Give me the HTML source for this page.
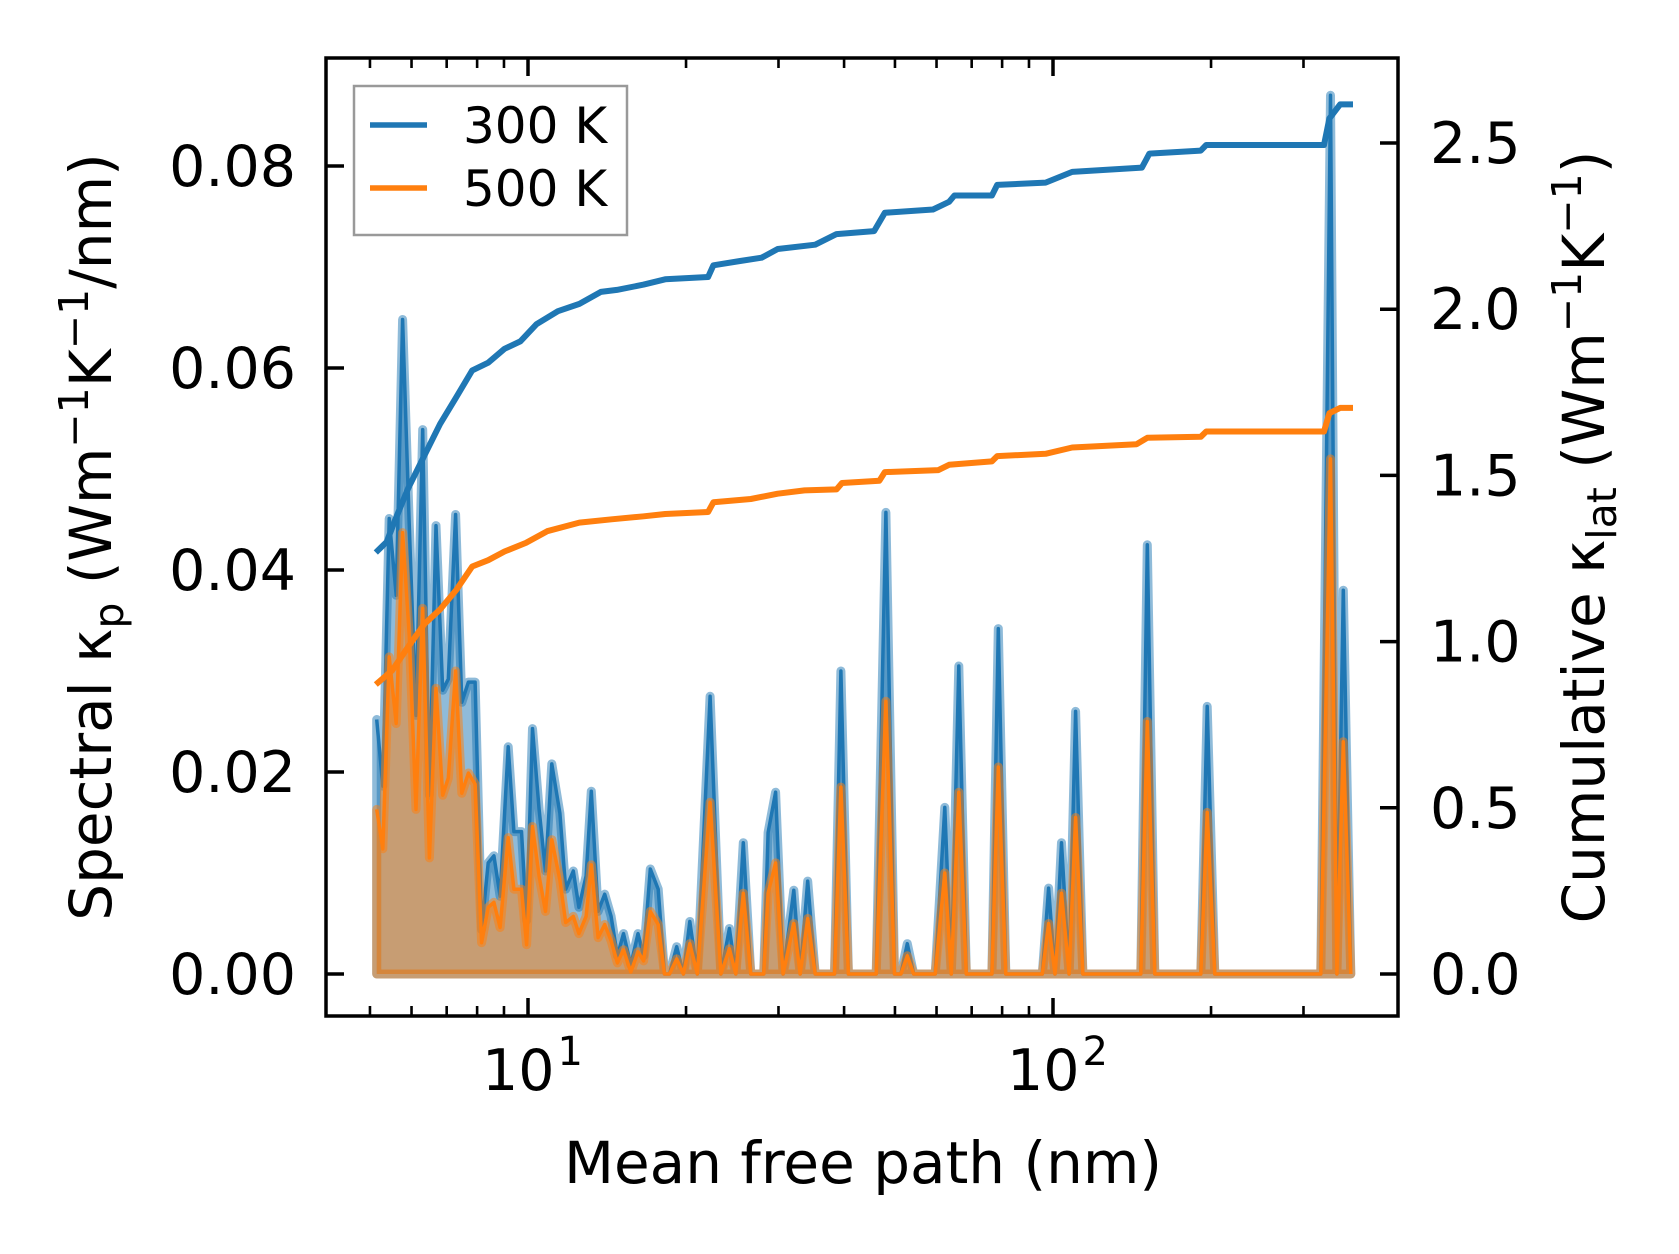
<!DOCTYPE html>
<html><head><meta charset="utf-8">
<style>
html,body{margin:0;padding:0;background:#fff;}
svg{display:block;font-family:"DejaVu Sans","Liberation Sans",sans-serif;}
</style></head>
<body>
<svg id="chart" width="1679" height="1254" viewBox="0 0 1679 1254" xmlns="http://www.w3.org/2000/svg">
<rect width="1679" height="1254" fill="#fff"/>
<defs><clipPath id="plotclip"><rect x="326" y="58" width="1072" height="958"/></clipPath></defs>
<g id="plot" clip-path="url(#plotclip)"></g>
<g id="axes"></g>
</svg>
<script>
// ---- data ----
const spec300X = [5.15,5.29,5.44,5.61,5.77,5.94,6.12,6.30,6.49,6.68,6.88,7.05,7.28,7.48,7.70,7.93,8.16,8.40,8.61,8.85,9.17,9.40,9.72,9.94,10.2,10.5,10.8,11.1,11.5,11.8,12.2,12.5,12.9,13.2,13.6,14.0,14.4,14.8,15.2,15.7,16.2,16.6,17.1,17.7,18.2,18.6,19.2,19.77,20.33,21.01,22.23,23.30,24.19,24.88,25.71,26.57,28.12,28.66,29.62,30.61,32.08,33.0,34.1,35.24,38.35,39.45,40.76,46.06,48.05,49.89,51.31,52.78,54.29,59.65,62.23,64.02,66.16,68.36,76.49,78.67,81.31,95.4,98.1,100.9,103.8,107.3,110.4,114.0,147.0,151.2,156.3,191.2,196.7,203.3,323.7,337.7,347.4,357.3,369.2];
const spec300Y = [0.0252,0.0186,0.0451,0.0375,0.0648,0.0446,0.0256,0.0539,0.0177,0.0444,0.0281,0.0292,0.0455,0.0269,0.0289,0.0289,0.0044,0.0110,0.0117,0.0077,0.0225,0.0141,0.0141,0.0053,0.0243,0.0163,0.0102,0.0208,0.0159,0.0084,0.0102,0.0066,0.0097,0.0181,0.0062,0.0079,0.0057,0.0018,0.0040,0.0009,0.0040,0.0018,0.0104,0.0084,0,0,0.0027,0,0.0052,0,0.0275,0,0.0045,0,0.013,0,0,0.014,0.018,0,0.0083,0,0.0092,0,0,0.030,0,0,0.0457,0,0,0.003,0,0,0.0165,0,0.0305,0,0,0.0342,0,0,0.0085,0,0.013,0,0.026,0,0,0.0425,0,0,0.0265,0,0,0.087,0,0.038,0];
const spec500Y = [0.0163,0.0124,0.0314,0.0248,0.0437,0.0336,0.0163,0.0362,0.0115,0.0283,0.0177,0.0194,0.0300,0.0179,0.0199,0.0188,0.0031,0.0066,0.0071,0.0046,0.0135,0.0084,0.0084,0.0029,0.0146,0.0097,0.0062,0.0133,0.0093,0.0051,0.0057,0.0040,0.0057,0.0108,0.0036,0.0049,0.0033,0.0011,0.0024,0.0002,0.0022,0.0013,0.0062,0.0049,0,0,0.0015,0,0.003,0,0.017,0,0.0025,0,0.008,0,0,0.008,0.011,0,0.005,0,0.0055,0,0,0.0185,0,0,0.027,0,0,0.0018,0,0,0.010,0,0.018,0,0,0.0205,0,0,0.005,0,0.008,0,0.0155,0,0,0.025,0,0,0.016,0,0,0.051,0,0.023,0];
const cum300X = [5.13,5.38,5.58,5.91,6.34,6.80,7.30,7.83,8.40,9.02,9.67,10.38,11.40,12.53,13.77,14.77,16.61,18.25,22.03,22.55,25.35,27.86,29.89,35.24,38.70,45.62,47.83,59.09,63.4,64.9,76.5,78.3,96.8,108.8,147.7,152.6,191.2,195.8,328.3,336.1,352.3,372.8];
const cum300Y = [1.268,1.30,1.365,1.461,1.558,1.655,1.735,1.816,1.839,1.881,1.903,1.955,1.994,2.016,2.052,2.058,2.074,2.09,2.097,2.132,2.145,2.155,2.181,2.194,2.226,2.235,2.29,2.30,2.323,2.342,2.342,2.374,2.381,2.413,2.426,2.468,2.477,2.494,2.494,2.574,2.616,2.616];
const cum500X = [5.13,5.51,5.91,6.34,6.80,7.30,7.83,8.40,9.02,9.91,10.88,12.53,14.43,16.61,18.25,22.03,22.55,26.57,29.89,33.62,38.70,39.63,46.70,47.83,60.5,63.4,76.5,78.3,96.8,108.8,144.3,151.2,191.2,195.8,328.3,336.1,352.3,372.8];
const cum500Y = [0.871,0.913,0.984,1.052,1.097,1.155,1.226,1.245,1.271,1.297,1.332,1.358,1.368,1.377,1.384,1.39,1.419,1.429,1.445,1.455,1.458,1.477,1.484,1.510,1.516,1.532,1.542,1.558,1.565,1.584,1.594,1.613,1.616,1.632,1.632,1.687,1.703,1.703];
const leftTicks = [0, 0.02, 0.04, 0.06, 0.08];
const leftTickLabels = ["0.00","0.02","0.04","0.06","0.08"];
const rightTicks = [0, 0.5, 1.0, 1.5, 2.0, 2.5];
const rightTickLabels = ["0.0","0.5","1.0","1.5","2.0","2.5"];
const xMajor = [10, 100];
const xMajorExp = ["1","2"];
const xMinor = [5,6,7,8,9,20,30,40,50,60,70,80,90,200,300];

// ---- scales ----
const L=326,R=1398,T=58,B=1016;
function sx(v){return 528 + (Math.log10(v)-1)*525;}
function syL(v){return 974 - v*10100;}
function syR(v){return 974 - v*332.4;}
const NS="http://www.w3.org/2000/svg";
const plot=document.getElementById('plot'), axes=document.getElementById('axes');
function mk(tag,attrs,parent){const e=document.createElementNS(NS,tag);for(const k in attrs)e.setAttribute(k,attrs[k]);parent.appendChild(e);return e;}

function drawSpec(ys,color,fillc,name){
  let line='', poly='';
  for(let i=0;i<spec300X.length;i++){const p=sx(spec300X[i]).toFixed(1)+','+syL(ys[i]).toFixed(1);line+=(i?' L':'M')+p;}
  poly=line+' L'+sx(spec300X[spec300X.length-1]).toFixed(1)+','+syL(0)+' L'+sx(spec300X[0]).toFixed(1)+','+syL(0)+' Z';
  const f=mk('path',{d:poly,fill:fillc,'fill-opacity':0.5,stroke:fillc,'stroke-opacity':0.5,'stroke-width':9,'stroke-linejoin':'round'},plot);
  
  
  const l=mk('path',{d:line,fill:'none',stroke:color,'stroke-width':3.5,'stroke-linejoin':'round'},plot);
  
  
}
drawSpec(spec300Y,'#1f77b4','#1f77b4','spectral-300k');
drawSpec(spec500Y,'#ff7f0e','#ff7f0e','spectral-500k');

function drawCum(xs,ys,color,name){
  let d='';for(let i=0;i<xs.length;i++){d+=(i?' L':'M')+sx(xs[i]).toFixed(1)+','+syR(ys[i]).toFixed(1);}
  const l=mk('path',{d:d,fill:'none',stroke:color,'stroke-width':6,'stroke-linejoin':'round'},plot);
  
  
}
drawCum(cum300X,cum300Y,'#1f77b4','cumulative-300k');
drawCum(cum500X,cum500Y,'#ff7f0e','cumulative-500k');

// spine
const sp=mk('rect',{x:L,y:T,width:R-L,height:B-T,fill:'none',stroke:'#000','stroke-width':3.5},axes);



leftTicks.forEach((v,i)=>{
  const y=syL(v);
  mk('line',{x1:L,x2:L+18,y1:y,y2:y,stroke:'#000','stroke-width':3.5},axes);
  const t=mk('text',{x:296,y:y+20,'text-anchor':'end','font-size':57,fill:'#000'},axes);
  t.textContent=leftTickLabels[i];
  
  
});
rightTicks.forEach((v,i)=>{
  const y=syR(v);
  mk('line',{x1:R-18,x2:R,y1:y,y2:y,stroke:'#000','stroke-width':3.5},axes);
  const t=mk('text',{x:1430,y:y+20,'text-anchor':'start','font-size':57,fill:'#000'},axes);
  t.textContent=rightTickLabels[i];
  
  
});
xMajor.forEach((v,i)=>{
  const x=sx(v);
  mk('line',{x1:x,x2:x,y1:B,y2:B-18,stroke:'#000','stroke-width':3.5},axes);
  mk('line',{x1:x,x2:x,y1:T,y2:T+18,stroke:'#000','stroke-width':3.5},axes);
  const t=mk('text',{x:x-46,y:1090,'font-size':57,fill:'#000'},axes);
  t.textContent='10';
  
  
  const s=mk('tspan',{dx:3,dy:-25,'font-size':40},t);
  s.textContent=xMajorExp[i];
});
xMinor.forEach(v=>{
  const x=sx(v);
  mk('line',{x1:x,x2:x,y1:B,y2:B-10,stroke:'#000','stroke-width':2.6},axes);
  mk('line',{x1:x,x2:x,y1:T,y2:T+10,stroke:'#000','stroke-width':2.6},axes);
});
</script>
<svg style="position:absolute;left:0;top:0" width="1679" height="1254" xmlns="http://www.w3.org/2000/svg" font-family="DejaVu Sans, Liberation Sans, sans-serif">
<g>
<rect x="354" y="86" width="273" height="149" fill="#fff" fill-opacity="0.8" stroke="#999" stroke-width="2.5"/>
<line x1="370" x2="427" y1="125" y2="125" stroke="#1f77b4" stroke-width="5.5"/>
<text x="463" y="143" font-size="50">300 K</text>
<line x1="370" x2="427" y1="188" y2="188" stroke="#ff7f0e" stroke-width="5.5"/>
<text x="463" y="206" font-size="50">500 K</text>
</g>
<text x="863" y="1183" text-anchor="middle" font-size="58">Mean free path (nm)</text>
<text transform="translate(111,537) rotate(-90)" text-anchor="middle" font-size="58">Spectral κ<tspan font-size="41" dy="12">p</tspan><tspan dy="-12"> (Wm</tspan><tspan font-size="41" dy="-23">−1</tspan><tspan dy="23">K</tspan><tspan font-size="41" dy="-23">−1</tspan><tspan dy="23">/nm)</tspan></text>
<text transform="translate(1604,537) rotate(-90)" text-anchor="middle" font-size="58">Cumulative κ<tspan font-size="41" dy="12">lat</tspan><tspan dy="-12"> (Wm</tspan><tspan font-size="41" dy="-23">−1</tspan><tspan dy="23">K</tspan><tspan font-size="41" dy="-23">−1</tspan><tspan dy="23">)</tspan></text>
</svg>
</body></html>
